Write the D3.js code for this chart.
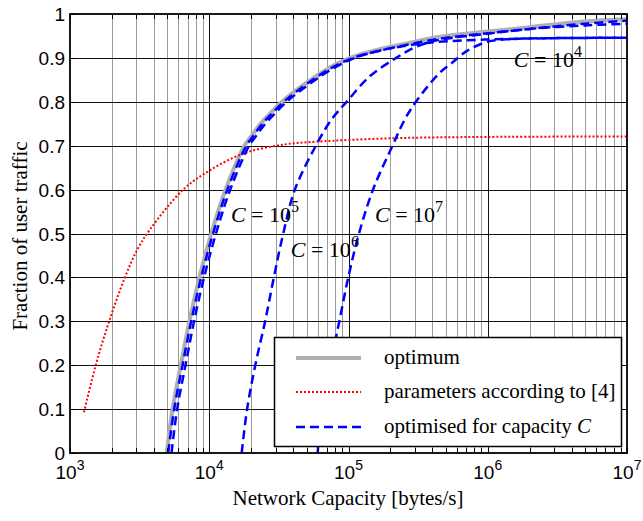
<!DOCTYPE html>
<html><head><meta charset="utf-8">
<script src="https://cdnjs.cloudflare.com/ajax/libs/d3/7.8.5/d3.min.js"></script>
<style>body{margin:0;background:#fff}</style>
</head><body>
<svg id="chart" width="643" height="521"></svg>
<script>
// ---- data ----
const xTickExponents = [3, 4, 5, 6, 7];
const yTicks = [0, 0.1, 0.2, 0.3, 0.4, 0.5, 0.6, 0.7, 0.8, 0.9, 1];
const yTickLabels = ["0", "0.1", "0.2", "0.3", "0.4", "0.5", "0.6", "0.7", "0.8", "0.9", "1"];

const optimumX = [4950, 5450, 6250, 7200, 8500, 10350, 13100, 17900, 20300, 23100, 27300, 33300, 42000, 54700, 73600, 102600, 155000, 263000, 454000, 1e6, 2e6, 4.5e6, 1e7];
const optimumY = [0, 0.1, 0.2, 0.3, 0.4, 0.5, 0.6, 0.7, 0.724, 0.748, 0.773, 0.8, 0.826, 0.852, 0.878, 0.9, 0.917, 0.933, 0.948, 0.96, 0.97, 0.982, 0.988];

const paramsX = [1260, 1530, 1910, 2480, 3040, 3750, 6500, 10000, 17900, 35000, 58600, 207000, 1e6, 1e7];
const paramsY = [0.093, 0.2, 0.3, 0.4, 0.463, 0.509, 0.6, 0.643, 0.683, 0.703, 0.709, 0.717, 0.72, 0.721];

const optC1X = [5070, 5600, 6430, 7420, 8750, 10650, 13500, 18450, 20900, 23800, 28100, 34300, 43300, 56300, 76000, 108000, 160000, 250000, 420000, 1e6, 3e6, 1e7];
const optC1Y = [0, 0.1, 0.2, 0.3, 0.4, 0.5, 0.6, 0.7, 0.724, 0.748, 0.773, 0.8, 0.826, 0.852, 0.878, 0.9, 0.915, 0.927, 0.936, 0.942, 0.945, 0.946];

const optC2X = [5360, 5880, 6750, 7780, 9180, 11180, 14150, 19330, 21900, 24950, 29500, 36000, 45400, 59100, 79500, 111000, 170000, 285000, 480000, 1e6, 2e6, 5e6, 1e7];
const optC2Y = [0, 0.1, 0.2, 0.3, 0.4, 0.5, 0.6, 0.7, 0.724, 0.748, 0.773, 0.8, 0.826, 0.852, 0.878, 0.9, 0.917, 0.932, 0.945, 0.956, 0.966, 0.978, 0.985];

const optC3X = [17100, 18700, 21400, 25200, 29100, 34000, 41200, 58300, 75600, 97000, 141000, 220000, 305000, 430000, 1e6, 2e6, 5e6, 1e7];
const optC3Y = [0, 0.1, 0.2, 0.3, 0.4, 0.5, 0.6, 0.7, 0.76, 0.8, 0.857, 0.9, 0.925, 0.94, 0.955, 0.966, 0.974, 0.978];

const optC4X = [60000, 64500, 73800, 85900, 99600, 119000, 150000, 207000, 252000, 305000, 448000, 560000, 700000, 1e6, 1.5e6, 3e6, 1e7];
const optC4Y = [0, 0.1, 0.2, 0.3, 0.4, 0.5, 0.6, 0.7, 0.758, 0.8, 0.865, 0.89, 0.915, 0.937, 0.943, 0.945, 0.946];

const legendLabels = ["optimum", "parameters according to [4]", "optimised for capacity "];
const annotationExps = ["4", "5", "6", "7"];
const annotationX = [1.54e6, 1.43e4, 3.85e4, 1.55e5];
const annotationY = [0.879, 0.526, 0.447, 0.526];

// ---- chart ----
const svg = d3.select("#chart");
svg.append("rect").attr("width", 643).attr("height", 521).attr("fill", "#fff");

const L = 70, R = 627, T = 14, B = 453;
const x = d3.scaleLog().domain([1e3, 1e7]).range([L, R]);
const y = d3.scaleLinear().domain([0, 1]).range([B, T]);
const serif = "'Liberation Serif', 'DejaVu Serif', serif";
const sans = "'Liberation Sans', Arial, sans-serif";

// grid
const minor = [];
for (let e = 3; e < 7; e++) for (let m = 2; m <= 9; m++) minor.push(m * Math.pow(10, e));
const grid = svg.append("g");
grid.selectAll("line.minor").data(minor).enter().append("line")
  .attr("x1", d => Math.round(x(d)) + 0.5).attr("x2", d => Math.round(x(d)) + 0.5)
  .attr("y1", T).attr("y2", B).attr("stroke", "#9a9a9a").attr("stroke-width", 1);
grid.selectAll("line.major").data(xTickExponents.slice(1, -1)).enter().append("line")
  .attr("x1", d => Math.round(x(Math.pow(10, d))) + 0.5).attr("x2", d => Math.round(x(Math.pow(10, d))) + 0.5)
  .attr("y1", T).attr("y2", B).attr("stroke", "#111").attr("stroke-width", 1);
grid.selectAll("line.h").data(yTicks.slice(1, -1)).enter().append("line")
  .attr("x1", L).attr("x2", R)
  .attr("y1", d => Math.round(y(d)) + 0.5).attr("y2", d => Math.round(y(d)) + 0.5)
  .attr("stroke", "#111").attr("stroke-width", 1);

// curves
const line = d3.line().x(d => x(d[0])).y(d => y(d[1])).curve(d3.curveCatmullRom.alpha(0.5));
const zip = (a, b) => a.map((v, i) => [v, b[i]]);
const plot = svg.append("g");
plot.append("path").attr("d", line(zip(optimumX, optimumY)))
  .attr("fill", "none").attr("stroke", "#b0b0b0").attr("stroke-width", 4);
plot.append("path").attr("d", line(zip(paramsX, paramsY)))
  .attr("fill", "none").attr("stroke", "#ff0000").attr("stroke-width", 2).attr("stroke-dasharray", "2,2");
[[optC1X, optC1Y], [optC2X, optC2Y], [optC3X, optC3Y], [optC4X, optC4Y]].forEach(([a, b]) => {
  plot.append("path").attr("d", line(zip(a, b)))
    .attr("fill", "none").attr("stroke", "#0000ff").attr("stroke-width", 2.5).attr("stroke-dasharray", "9,5");
});

// annotations
annotationExps.forEach((ex, i) => {
  const t = svg.append("text").attr("x", x(annotationX[i])).attr("y", y(annotationY[i]))
    .attr("font-family", serif).attr("font-size", 22).attr("fill", "#000");
  t.append("tspan").attr("font-style", "italic").text("C");
  t.append("tspan").text(" = 10");
  t.append("tspan").attr("dy", -10).attr("font-size", 16).text(ex);
});

// legend
const lg = svg.append("g");
lg.append("rect").attr("x", 274.5).attr("y", 337.5).attr("width", 347).attr("height", 109)
  .attr("fill", "#fff").attr("stroke", "#000").attr("stroke-width", 1.5);
const rows = [358, 392, 427];
const styles = [
  {stroke: "#b0b0b0", w: 4, dash: null},
  {stroke: "#ff0000", w: 2, dash: "2,2"},
  {stroke: "#0000ff", w: 2.5, dash: "9,5"}
];
rows.forEach((ry, i) => {
  const s = styles[i];
  const ln = lg.append("line").attr("x1", 296).attr("x2", 361).attr("y1", ry).attr("y2", ry)
    .attr("stroke", s.stroke).attr("stroke-width", s.w);
  if (s.dash) ln.attr("stroke-dasharray", s.dash);
  const t = lg.append("text").attr("x", 384).attr("y", ry + 6)
    .attr("font-family", serif).attr("font-size", 21).attr("fill", "#000").text(legendLabels[i]);
  if (i === 2) t.append("tspan").attr("font-style", "italic").text("C");
});

// axes frame and ticks
const ax = svg.append("g");
const tickVals = minor.concat(xTickExponents.map(e => Math.pow(10, e)));
ax.selectAll("line.tb").data(tickVals).enter().append("line")
  .attr("x1", d => Math.round(x(d)) + 0.5).attr("x2", d => Math.round(x(d)) + 0.5)
  .attr("y1", B).attr("y2", B - 5).attr("stroke", "#000").attr("stroke-width", 1);
ax.selectAll("line.tt").data(tickVals).enter().append("line")
  .attr("x1", d => Math.round(x(d)) + 0.5).attr("x2", d => Math.round(x(d)) + 0.5)
  .attr("y1", T).attr("y2", T + 5).attr("stroke", "#000").attr("stroke-width", 1);
ax.selectAll("line.tl").data(yTicks).enter().append("line")
  .attr("x1", L).attr("x2", L + 6).attr("y1", d => Math.round(y(d)) + 0.5).attr("y2", d => Math.round(y(d)) + 0.5)
  .attr("stroke", "#000");
ax.selectAll("line.tr").data(yTicks).enter().append("line")
  .attr("x1", R).attr("x2", R - 6).attr("y1", d => Math.round(y(d)) + 0.5).attr("y2", d => Math.round(y(d)) + 0.5)
  .attr("stroke", "#000");
ax.append("rect").attr("x", L).attr("y", T).attr("width", R - L).attr("height", B - T)
  .attr("fill", "none").attr("stroke", "#000").attr("stroke-width", 1.8);

// y tick labels
ax.selectAll("text.yl").data(yTicks).enter().append("text")
  .attr("x", L - 5).attr("y", d => y(d) + 7).attr("text-anchor", "end")
  .attr("font-family", sans).attr("font-size", 19).attr("fill", "#000")
  .text((d, i) => yTickLabels[i]);

// x tick labels 10^n
xTickExponents.forEach(e => {
  const t = ax.append("text").attr("x", x(Math.pow(10, e))).attr("y", 479)
    .attr("text-anchor", "middle").attr("font-family", sans).attr("font-size", 19).attr("fill", "#000");
  t.append("tspan").text("10");
  t.append("tspan").attr("dy", -9).attr("font-size", 14).text(String(e));
});

// axis titles
svg.append("text").attr("x", 348).attr("y", 505).attr("text-anchor", "middle")
  .attr("font-family", serif).attr("font-size", 21).attr("fill", "#000")
  .text("Network Capacity [bytes/s]");
svg.append("text").attr("transform", "translate(27,236) rotate(-90)").attr("text-anchor", "middle")
  .attr("font-family", serif).attr("font-size", 21).attr("fill", "#000")
  .text("Fraction of user traffic");
</script>
</body></html>
